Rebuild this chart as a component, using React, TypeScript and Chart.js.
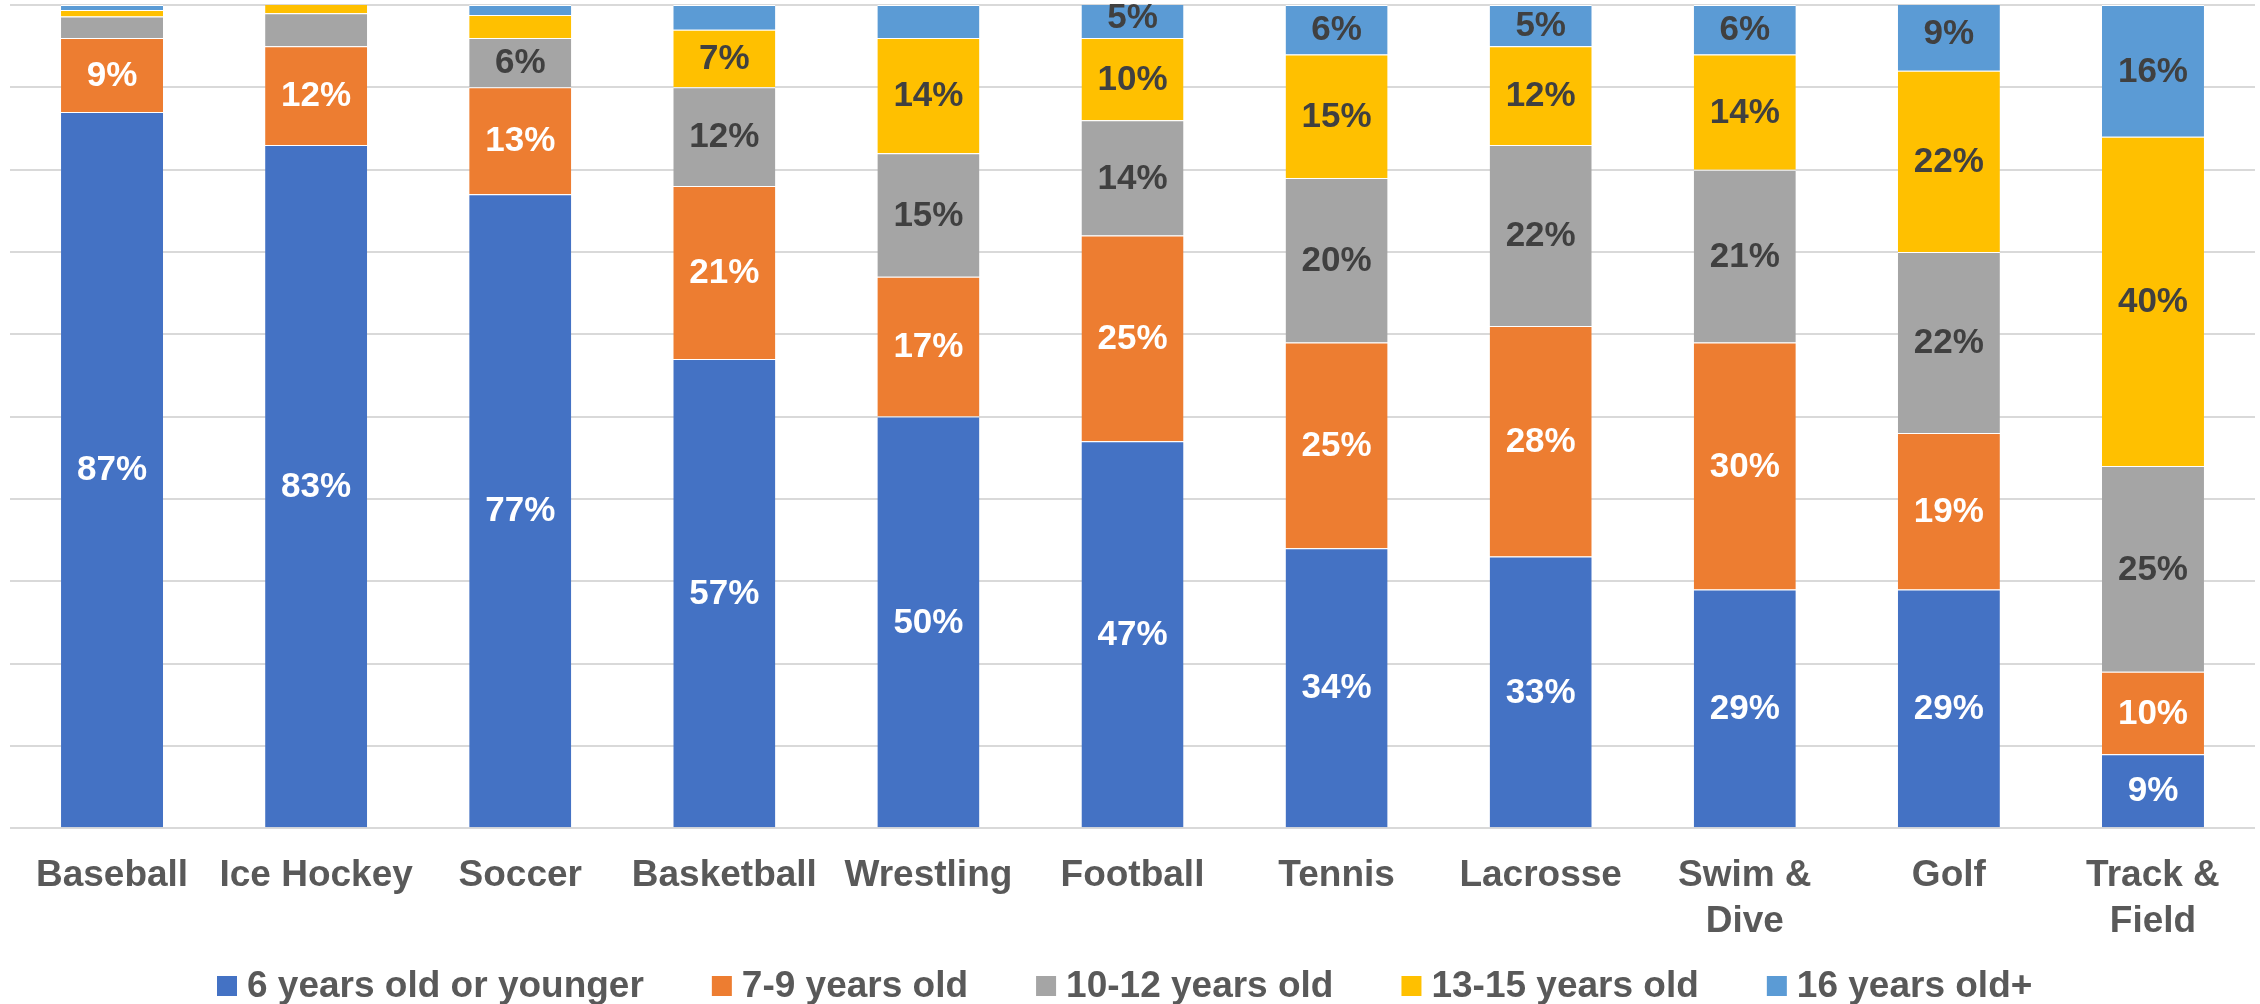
import React, { useEffect, useRef } from "react";
import { Chart, registerables } from "chart.js";

Chart.register(...registerables);

// Sports and the age at which athletes started playing them
const categories: (string | string[])[] = [
  "Baseball",
  "Ice Hockey",
  "Soccer",
  "Basketball",
  "Wrestling",
  "Football",
  "Tennis",
  "Lacrosse",
  ["Swim &", "Dive"],
  "Golf",
  ["Track &", "Field"],
];

const age6OrYounger = [87, 83, 77, 57, 50, 47, 34, 33, 29, 29, 9];
const age7to9 = [9, 12, 13, 21, 17, 25, 25, 28, 30, 19, 10];
const age10to12 = [2.6, 4, 6, 12, 15, 14, 20, 22, 21, 22, 25];
const age13to15 = [0.8, 1.4, 2.8, 7, 14, 10, 15, 12, 14, 22, 40];
const age16Plus = [0.6, 0, 1.2, 3, 4, 5, 6, 5, 6, 9, 16];

const seriesLabels = [
  "6 years old or younger",
  "7-9 years old",
  "10-12 years old",
  "13-15 years old",
  "16 years old+",
];
const seriesColors = ["#4472C4", "#ED7D31", "#A5A5A5", "#FFC000", "#5B9BD5"];
const labelColors = ["#FFFFFF", "#FFFFFF", "#404040", "#404040", "#404040"];

const FONT = '"Liberation Sans", Arial, sans-serif';
const TEXT_GREY = "#595959";
const MIN_LABELLED = 5;

// Percent labels centred in each segment large enough to hold one
const segmentLabels = {
  id: "segmentLabels",
  afterDatasetsDraw(chart: Chart) {
    const { ctx } = chart;
    ctx.save();
    ctx.font = `bold 35px ${FONT}`;
    ctx.textAlign = "center";
    ctx.textBaseline = "middle";
    chart.data.datasets.forEach((ds, di) => {
      const meta = chart.getDatasetMeta(di);
      meta.data.forEach((bar: any, i: number) => {
        const v = ds.data[i] as number;
        if (v < MIN_LABELLED) return;
        const { x, y, base } = bar.getProps(["x", "y", "base"], true);
        ctx.fillStyle = labelColors[di];
        ctx.fillText(`${Math.round(v)}%`, x, (y + base) / 2 + 1);
      });
    });
    ctx.restore();
  },
};

// Legend row along the bottom edge
const LEGEND_LEFT = 217;
const LEGEND_Y = 986;
const LEGEND_BOX = 20;
const LEGEND_TEXT_GAP = 10;
const LEGEND_ITEM_GAP = 68;

const bottomLegend = {
  id: "bottomLegend",
  afterDraw(chart: Chart) {
    const { ctx } = chart;
    ctx.save();
    ctx.font = `bold 37px ${FONT}`;
    ctx.textAlign = "left";
    ctx.textBaseline = "middle";
    let x = LEGEND_LEFT;
    chart.data.datasets.forEach((ds) => {
      ctx.fillStyle = ds.backgroundColor as string;
      ctx.fillRect(x, LEGEND_Y - LEGEND_BOX / 2, LEGEND_BOX, LEGEND_BOX);
      x += LEGEND_BOX + LEGEND_TEXT_GAP;
      ctx.fillStyle = TEXT_GREY;
      const text = ds.label as string;
      ctx.fillText(text, x, LEGEND_Y + 1);
      x += ctx.measureText(text).width + LEGEND_ITEM_GAP;
    });
    ctx.restore();
  },
};

export default function App() {
  const canvasRef = useRef<HTMLCanvasElement>(null);

  useEffect(() => {
    if (!canvasRef.current) return;
    const values = [age6OrYounger, age7to9, age10to12, age13to15, age16Plus];
    const chart = new Chart(canvasRef.current, {
      type: "bar",
      data: {
        labels: categories,
        datasets: values.map((data, i) => ({
          label: seriesLabels[i],
          data,
          backgroundColor: seriesColors[i],
          borderColor: "#FFFFFF",
          borderWidth: { top: 1, left: 0, right: 0, bottom: 0 },
          borderSkipped: false,
          categoryPercentage: 1,
          barPercentage: 0.5,
        })),
      },
      options: {
        responsive: false,
        animation: false,
        devicePixelRatio: 1,
        layout: { padding: { top: 5, left: 10, right: 5, bottom: 34 } },
        plugins: {
          legend: { display: false },
          tooltip: { enabled: false },
        },
        scales: {
          x: {
            stacked: true,
            grid: { display: false, drawTicks: false },
            border: { display: false },
            ticks: {
              autoSkip: false,
              maxRotation: 0,
              minRotation: 0,
              padding: 25,
              color: TEXT_GREY,
              font: { family: FONT, size: 37, weight: "bold", lineHeight: 1.24 },
            },
          },
          y: {
            stacked: true,
            min: 0,
            max: 100,
            ticks: { display: false, stepSize: 10 },
            grid: { color: "#D9D9D9", lineWidth: 2, drawTicks: false },
            border: { display: false },
          },
        },
      },
      plugins: [segmentLabels, bottomLegend],
    });
    return () => chart.destroy();
  }, []);

  return (
    <div style={{ position: "fixed", left: 0, top: 0, width: 2260, height: 1004, background: "#FFFFFF" }}>
      <canvas ref={canvasRef} width={2260} height={1004} style={{ display: "block" }} />
    </div>
  );
}
